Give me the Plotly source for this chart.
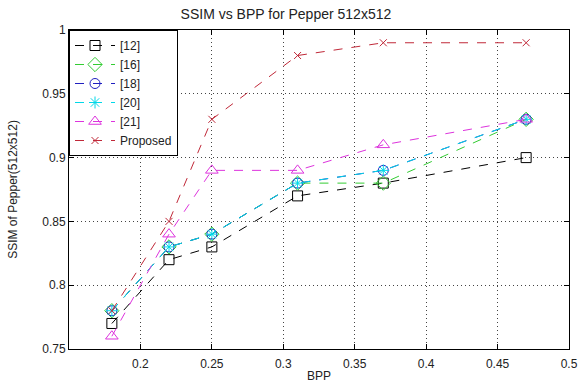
import plotly.graph_objects as go

# Bits per pixel at which each method was evaluated
bpp = [0.18, 0.22, 0.25, 0.31, 0.37, 0.47]

# SSIM on the 512x512 Pepper image
ssim_12 = [0.77, 0.82, 0.83, 0.87, 0.88, 0.90]
ssim_16 = [0.78, 0.83, 0.84, 0.88, 0.88, 0.93]
ssim_18 = [0.78, 0.83, 0.84, 0.88, 0.89, 0.93]
ssim_20 = [0.78, 0.83, 0.84, 0.88, 0.89, 0.93]
ssim_21 = [0.76, 0.84, 0.89, 0.89, 0.91, 0.93]
ssim_proposed = [0.78, 0.85, 0.93, 0.98, 0.99, 0.99]

series_names = ["[12]", "[16]", "[18]", "[20]", "[21]", "Proposed"]
x_ticks = [0.2, 0.25, 0.3, 0.35, 0.4, 0.45, 0.5]
y_ticks = [0.75, 0.8, 0.85, 0.9, 0.95, 1]

styles = [
    (ssim_12, "#000000", "square-open", 10),
    (ssim_16, "#33cc33", "diamond-open", 11),
    (ssim_18, "#2020c0", "circle-open", 10),
    (ssim_20, "#00d8e8", "asterisk-open", 10),
    (ssim_21, "#dd33dd", "triangle-up-open", 11),
    (ssim_proposed, "#c02838", "x-thin-open", 7),
]

fig = go.Figure()
for name, (vals, color, symbol, size) in zip(series_names, styles):
    fig.add_trace(go.Scatter(
        x=bpp, y=vals, name=name, mode="lines+markers",
        line=dict(color=color, width=1, dash="dash"),
        marker=dict(symbol=symbol, size=size, color=color,
                    line=dict(color=color, width=1)),
    ))

axis_common = dict(
    showline=True, linecolor="black", linewidth=1, mirror="ticks",
    ticks="inside", ticklen=5, tickcolor="black",
    showgrid=True, gridcolor="#444444", griddash="1px,3px", gridwidth=1,
    zeroline=False, tickfont=dict(size=12, color="#222222"),
    automargin=False,
)

fig.update_layout(
    width=580, height=383,
    margin=dict(l=69, r=11, t=30, b=34),
    paper_bgcolor="white", plot_bgcolor="white",
    font=dict(family="Liberation Sans, Arial, sans-serif", size=12, color="#222222"),
    title=dict(text="SSIM vs BPP for Pepper 512x512", x=0.493, xanchor="center",
               y=0.963, yanchor="middle", font=dict(size=14)),
    xaxis=dict(range=[0.15, 0.5], tickvals=x_ticks,
               ticktext=[f"{t:g}" for t in x_ticks],
               ticklabelstandoff=4,
               title=dict(text="BPP", standoff=3, font=dict(size=12)),
               **axis_common),
    yaxis=dict(range=[0.75, 1.0], tickvals=y_ticks,
               ticktext=[f"{t:g}" for t in y_ticks],
               title=dict(text="SSIM of Pepper(512x512)", standoff=22, font=dict(size=12)),
               **axis_common),
    legend=dict(x=0, y=1, xanchor="left", yanchor="top",
                bgcolor="white", bordercolor="black", borderwidth=1,
                font=dict(size=12), tracegroupgap=0, itemwidth=40,
                ),
    showlegend=True,
)

fig.write_html("out.html")
